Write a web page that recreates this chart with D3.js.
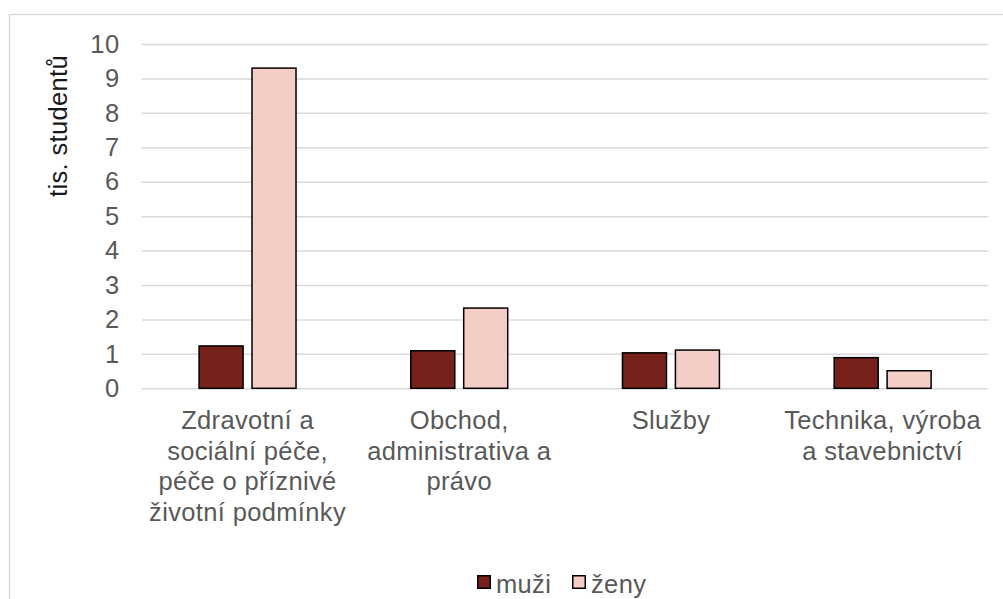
<!DOCTYPE html>
<html>
<head>
<meta charset="utf-8">
<script src="https://cdn.jsdelivr.net/npm/d3@7"></script>
<style>
  html, body { margin: 0; padding: 0; background: #fff; }
  svg { display: block; font-family: "Liberation Sans", Arial, sans-serif; }
</style>
</head>
<body>
<svg id="chart" width="1003" height="599"></svg>
<script>
const categories = [
  ["Zdravotní a", "sociální péče,", "péče o příznivé", "životní podmínky"],
  ["Obchod,", "administrativa a", "právo"],
  ["Služby"],
  ["Technika, výroba", "a stavebnictví"]
];
const seriesNames = ["muži", "ženy"];
const muzi = [1.23, 1.09, 1.03, 0.89];
const zeny = [9.30, 2.33, 1.11, 0.51];
const yTicks = [0, 1, 2, 3, 4, 5, 6, 7, 8, 9, 10];
const yTitle = "tis. studentů";
const colors = { "muži": "#76211a", "ženy": "#f4cdc7" };

const svg = d3.select("#chart");
const catKeys = categories.map(c => c.join(" "));
const values = { "muži": muzi, "ženy": zeny };
const FS = "25.5px";

// chart area border (only left/top visible, as in the cropped reference)
svg.append("rect").attr("x", 9.5).attr("y", 14.5).attr("width", 1200).attr("height", 800)
  .attr("fill", "none").attr("stroke", "#d9d9d9").attr("stroke-width", 1.3);

const plot = { left: 141.7, right: 988.5, top: 44, bottom: 388.3 };

const y = d3.scaleLinear().domain([0, 10]).range([plot.bottom, plot.top]);
const x0 = d3.scaleBand().domain(catKeys).range([plot.left, plot.right])
  .paddingInner(0.535).paddingOuter(0.2675);
const x1 = d3.scaleBand().domain(seriesNames).range([0, x0.bandwidth()]).paddingInner(0.14);

// gridlines + tick labels
const yAxis = d3.axisLeft(y).tickValues(yTicks).tickFormat(d3.format("d"))
  .tickSize(-(plot.right - plot.left)).tickPadding(22);
const gy = svg.append("g").attr("transform", `translate(${plot.left},0)`).call(yAxis);
gy.select(".domain").remove();
gy.selectAll(".tick line").attr("stroke", "#d9d9d9").attr("stroke-width", 1.5);
gy.selectAll(".tick text").attr("fill", "#595959").style("font-size", FS)
  .style("letter-spacing", "0.5px")
  .attr("font-family", "Liberation Sans, Arial, sans-serif");

// bars
const groups = svg.append("g").selectAll("g").data(catKeys).join("g")
  .attr("transform", d => `translate(${x0(d)},0)`);
groups.selectAll("rect")
  .data((d, i) => seriesNames.map(s => ({ s, v: values[s][i] })))
  .join("rect")
  .attr("x", d => x1(d.s) + 0.75)
  .attr("width", x1.bandwidth() - 1.5)
  .attr("y", d => y(d.v))
  .attr("height", d => y(0) - y(d.v))
  .attr("fill", d => colors[d.s])
  .attr("stroke", "#000").attr("stroke-width", 1.5);

// category labels
const labelG = svg.append("g");
categories.forEach((lines, i) => {
  const cx = x0(catKeys[i]) + x0.bandwidth() / 2;
  const t = labelG.append("text").attr("text-anchor", "middle").attr("fill", "#595959")
    .style("font-size", FS).style("letter-spacing", "0.35px");
  lines.forEach((ln, j) => {
    t.append("tspan").attr("x", cx).attr("y", 429 + j * 30.6).text(ln);
  });
});

// y title
svg.append("text")
  .attr("transform", "translate(67,126) rotate(-90)")
  .attr("text-anchor", "middle").attr("fill", "#1a1a1a")
  .style("font-size", FS).style("letter-spacing", "0.35px").text(yTitle);

// legend
const legendX = [477, 572];
const lg = svg.append("g").selectAll("g").data(seriesNames).join("g")
  .attr("transform", (d, i) => `translate(${legendX[i]},0)`);
lg.append("rect").attr("x", 0.75).attr("y", 575.75).attr("width", 12.5).attr("height", 12.5)
  .attr("fill", d => colors[d]).attr("stroke", "#000").attr("stroke-width", 1.5);
lg.append("text").attr("x", 19).attr("y", 593).attr("fill", "#595959")
  .style("font-size", FS).style("letter-spacing", "0.35px").text(d => d);
</script>
</body>
</html>
